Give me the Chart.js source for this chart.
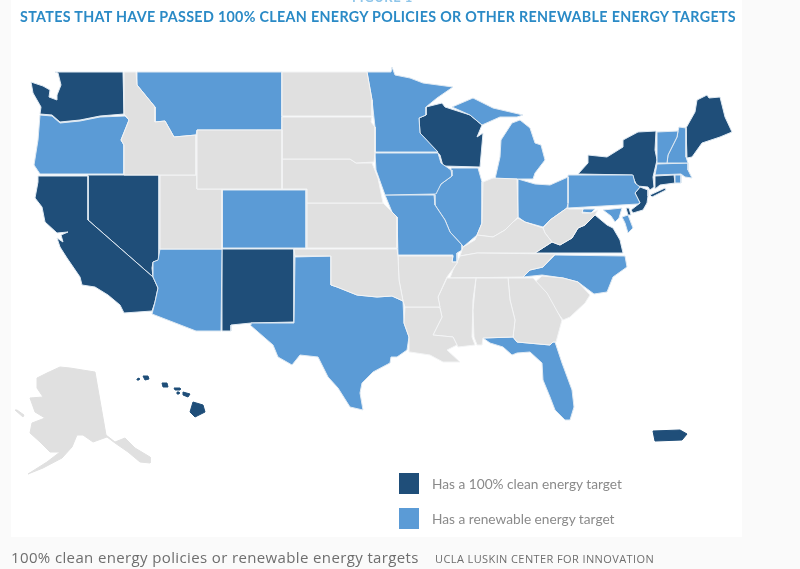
<!DOCTYPE html>
<html lang="en">
<head>
  <meta charset="UTF-8" />
  <title>100% clean energy policies or renewable energy targets</title>
  <script src="https://cdn.jsdelivr.net/npm/chart.js"></script>
  <style>
    body { margin: 0; background: #fafafa; width: 800px; height: 569px; overflow: hidden; position: relative; }
    .panel { position: absolute; left: 11px; top: 0; width: 731px; height: 537px; background: #fff; }
    canvas { position: absolute; left: 0; top: 0; }
    .fig { position: absolute; left: 352px; top: -11px; font: bold 13px Lato, sans-serif; color: #8fc6ea; letter-spacing: 0.5px; }
    .title { position: absolute; left: 20px; top: 8px; white-space: nowrap; font: bold 14.3px Lato, sans-serif; color: #2a8ac6; letter-spacing: 0.32px; }
    .key { position: absolute; left: 399px; width: 20px; height: 21px; }
    .keytext { position: absolute; left: 432px; font: 13.7px Lato, sans-serif; color: #8a8a8a; white-space: nowrap; }
    .caption { position: absolute; left: 11px; top: 547px; font: 15px "Open Sans", sans-serif; color: #6e6e6e; letter-spacing: 0.37px; white-space: nowrap; }
    .credit { position: absolute; left: 435px; top: 551px; font: 11px "Open Sans", sans-serif; color: #6e6e6e; letter-spacing: 0.4px; white-space: nowrap; }
  </style>
</head>
<body>
  <div class="panel"></div>
  <canvas id="mapa" width="800" height="569"></canvas>
  <div class="fig">FIGURE 1</div>
  <div class="title">STATES THAT HAVE PASSED 100% CLEAN ENERGY POLICIES OR OTHER RENEWABLE ENERGY TARGETS</div>
  <div class="key" style="top:473px;background:#1f4e79"></div>
  <div class="keytext" style="top:475px">Has a 100% clean energy target</div>
  <div class="key" style="top:508px;background:#5b9bd6"></div>
  <div class="keytext" style="top:510px">Has a renewable energy target</div>
  <div class="caption">100% clean energy policies or renewable energy targets</div>
  <div class="credit">UCLA LUSKIN CENTER FOR INNOVATION</div>

  <script>
    // state outlines (map units)
    const washington = [[55,72],[123,72],[124,114],[100,116],[80,120],[60,122],[52,115],[40,114],[41,107],[33,93],[31,82],[43,86],[50,90],[49,97],[57,100],[57,95],[61,85],[58,73]];
    const california = [[38,176],[88,176],[88,220],[153,277],[158,288],[155,302],[152,311],[124,313],[120,305],[108,295],[95,287],[82,285],[80,277],[67,258],[60,247],[57,238],[60,240],[63,242],[61,235],[68,232],[57,233],[45,222],[42,207],[35,198],[38,182]];
    const nevada = [[88,175],[159,175],[159,260],[153,262],[152,268],[153,277],[88,220]];
    const newMexico = [[222,249],[294,249],[294,322],[251,323],[231,325],[231,331],[222,331]];
    const wisconsin = [[426,107],[442,103],[445,107],[470,115],[482,125],[477,137],[483,133],[480,167],[443,166],[440,155],[420,133],[419,118],[426,115]];
    const virginia = [[535,253],[552,242],[560,245],[572,238],[578,228],[585,225],[595,215],[607,225],[613,228],[620,240],[623,253]];
    const newYork = [[578,174],[588,163],[588,155],[607,157],[623,147],[623,140],[638,132],[656,131],[655,150],[657,160],[653,177],[654,187],[650,190],[648,187],[637,186],[632,175]];
    const longIsland = [[650,195],[665,188],[666,190],[652,197]];
    const newJersey = [[640,187],[648,190],[648,196],[647,203],[643,210],[633,213],[631,210],[640,203],[635,193]];
    const delaware = [[626,208],[629,208],[631,215],[628,215]];
    const connecticut = [[655,176],[674,175],[675,183],[660,185],[655,189]];
    const maine = [[686,128],[695,112],[697,100],[707,95],[709,98],[720,97],[725,117],[732,132],[720,137],[702,143],[692,157],[687,158]];
    const puertoRico = [[653,431],[680,430],[687,434],[682,440],[655,441]];
    const hawaiiBig = [[193,402],[203,405],[205,412],[195,417],[190,412]];
    const maui = [[183,392],[190,394],[188,397],[183,395]];
    const oahu = [[162,383],[167,383],[168,387],[163,387]];
    const kauai = [[143,376],[148,376],[149,379],[145,380]];
    const molokai = [[174,388],[180,388],[180,390],[175,390]];
    const lanai = [[177,392],[179,392],[179,394],[177,394]];
    const niihau = [[137,379],[139,378],[139,380],[137,380]];

    const oregon = [[40,115],[52,116],[60,123],[80,121],[100,117],[125,116],[129,120],[121,140],[124,145],[124,174],[40,174],[34,165],[38,140]];
    const montana = [[137,72],[282,72],[282,130],[197,130],[196,135],[174,137],[165,121],[155,122],[155,107],[137,85]];
    const colorado = [[222,190],[306,190],[306,248],[222,248]];
    const arizona = [[160,249],[222,249],[221,331],[196,331],[152,314],[155,302],[158,288],[153,277],[153,262],[158,260]];
    const texas = [[295,257],[331,256],[331,285],[337,287],[357,295],[377,297],[392,296],[403,301],[404,323],[409,337],[407,350],[397,357],[391,357],[390,363],[373,372],[362,383],[360,393],[363,410],[350,407],[338,388],[328,377],[318,357],[300,355],[292,365],[278,357],[273,345],[250,325],[251,323],[294,323]];
    const minnesota = [[367,72],[391,72],[392,67],[395,75],[410,78],[423,83],[453,87],[437,98],[426,107],[426,115],[419,118],[420,133],[438,152],[375,152],[375,127],[372,100]];
    const iowa = [[375,153],[438,153],[441,163],[451,170],[452,176],[441,184],[436,194],[385,195],[376,170]];
    const missouri = [[385,195],[434,195],[435,205],[445,220],[450,232],[462,245],[462,250],[457,253],[457,262],[452,262],[453,255],[398,255],[397,217],[392,212]];
    const illinois = [[451,168],[478,168],[482,182],[482,223],[477,235],[463,247],[462,245],[450,232],[445,220],[435,205],[434,195],[441,184],[452,176]];
    const michiganUpper = [[452,107],[473,98],[493,108],[523,115],[517,117],[500,117],[482,125],[470,115]];
    const michiganLower = [[512,123],[520,120],[530,128],[535,143],[541,145],[545,160],[535,173],[533,179],[495,179],[500,157],[501,140]];
    const ohio = [[518,179],[535,184],[550,185],[568,177],[568,203],[567,208],[550,220],[543,227],[525,222],[518,217]];
    const pennsylvania = [[568,175],[633,175],[635,183],[640,187],[635,193],[640,203],[638,204],[568,208]];
    const vermont = [[657,132],[678,131],[677,137],[668,155],[667,163],[657,163],[657,150]];
    const newHampshire = [[679,127],[686,128],[686,157],[688,163],[667,163],[668,155],[677,137],[678,131]];
    const massachusetts = [[657,164],[688,163],[688,170],[692,178],[685,177],[681,174],[655,175]];
    const rhodeIsland = [[675,175],[681,175],[681,183],[675,183]];
    const marylandWest = [[582,212],[583,209],[595,209],[591,213]];
    const marylandEast = [[603,210],[622,208],[619,218],[615,222],[611,216]];
    const delmarva = [[622,217],[628,215],[633,228],[628,233],[625,223]];
    const northCarolina = [[555,255],[625,256],[627,267],[613,277],[607,292],[594,294],[578,282],[563,278],[542,275],[523,277],[530,270],[543,267]];
    const florida = [[483,338],[513,337],[517,342],[550,345],[552,342],[555,342],[562,363],[572,390],[574,407],[570,420],[565,420],[555,410],[550,397],[543,380],[542,363],[530,352],[517,353],[512,355],[503,347],[490,343]];

    const idaho = [[124,72],[136,72],[137,85],[155,107],[155,122],[165,121],[174,137],[196,135],[196,175],[124,175],[124,145],[121,140],[129,120],[124,114]];
    const wyoming = [[197,130],[282,130],[282,189],[197,189]];
    const utah = [[160,175],[197,175],[197,189],[222,189],[222,249],[160,249]];
    const northDakota = [[282,72],[367,72],[372,100],[372,116],[282,116]];
    const southDakota = [[282,117],[372,117],[371,122],[375,127],[375,152],[374,162],[356,163],[350,159],[282,159]];
    const nebraska = [[282,159],[350,159],[356,163],[372,163],[378,178],[383,203],[307,203],[307,189],[282,189]];
    const kansas = [[307,203],[383,203],[392,212],[397,217],[397,248],[307,248]];
    const oklahoma = [[294,249],[397,249],[398,257],[399,280],[403,301],[392,296],[377,297],[357,295],[337,287],[331,285],[331,256],[295,256]];
    const arkansas = [[398,256],[453,256],[452,262],[458,262],[447,277],[438,297],[440,307],[405,307],[403,301],[399,280]];
    const louisiana = [[405,307],[438,307],[440,308],[442,317],[433,335],[453,337],[457,345],[447,350],[460,362],[443,362],[430,355],[410,352],[409,337],[404,323]];
    const mississippi = [[447,278],[476,278],[473,300],[472,337],[475,345],[458,347],[453,337],[433,335],[442,317],[440,308],[438,297]];
    const alabama = [[476,278],[508,278],[510,300],[515,320],[513,337],[483,338],[482,345],[477,345],[474,337],[473,310]];
    const georgia = [[508,278],[533,278],[547,293],[562,320],[556,342],[553,342],[550,345],[517,342],[513,337],[515,320],[510,300]];
    const southCarolina = [[535,282],[542,276],[563,278],[578,282],[590,295],[585,303],[570,317],[563,320]];
    const tennessee = [[460,256],[477,253],[555,254],[543,267],[530,270],[523,277],[450,278],[453,270]];
    const kentucky = [[463,247],[475,240],[477,235],[493,237],[505,230],[513,222],[518,218],[525,222],[543,228],[545,233],[552,242],[535,253],[477,253],[460,256]];
    const westVirginia = [[543,228],[550,220],[567,208],[569,209],[583,209],[582,213],[591,213],[598,210],[595,215],[585,225],[578,228],[572,238],[560,245],[552,242],[545,233]];
    const indiana = [[483,182],[493,178],[517,179],[518,217],[513,222],[505,230],[493,237],[477,235],[482,223]];
    const alaska = [[60,367],[70,368],[95,372],[106,435],[115,442],[125,438],[135,448],[150,457],[150,463],[140,462],[128,452],[115,443],[107,437],[93,442],[83,435],[77,435],[72,447],[62,458],[43,468],[28,474],[47,462],[60,452],[50,452],[40,442],[30,433],[32,423],[45,418],[35,412],[30,398],[43,397],[37,388],[37,378],[47,373]];
    const alaskaIsland = [[15,410],[17,410],[24,415],[23,417]];
    const okeechobee = [[563,394],[567,394],[569,398],[566,401],[563,399]];

    const cleanTarget = [washington, california, nevada, newMexico, wisconsin, virginia, newYork, longIsland, newJersey, delaware, connecticut, maine];
    const cleanIslands = [puertoRico, hawaiiBig, maui, oahu, kauai, molokai, lanai, niihau];
    const renewableTarget = [oregon, montana, colorado, arizona, texas, minnesota, iowa, missouri, illinois, michiganUpper, michiganLower, ohio, pennsylvania, vermont, newHampshire, massachusetts, rhodeIsland, marylandWest, marylandEast, delmarva, northCarolina, florida];
    const noTarget = [idaho, wyoming, utah, northDakota, southDakota, nebraska, kansas, oklahoma, arkansas, louisiana, mississippi, alabama, georgia, southCarolina, tennessee, kentucky, westVirginia, indiana];
    const noTargetAlaska = [alaska, alaskaIsland];
    const lakes = [okeechobee];

    function capa(estados, color, borde) {
      return estados.map(e => ({
        data: e.concat([e[0]]).map(p => ({ x: p[0], y: p[1] })),
        showLine: true,
        fill: 'shape',
        backgroundColor: color,
        borderColor: borde,
        borderWidth: 1,
        pointRadius: 0,
        tension: 0
      }));
    }

    new Chart(document.getElementById('mapa'), {
      type: 'scatter',
      data: {
        datasets: [
          ...capa(noTarget, '#e0e0e0', '#f3f4f5'),
          ...capa(noTargetAlaska, '#e0e0e0', '#e0e0e0'),
          ...capa(renewableTarget, '#5b9bd6', '#dfe9f2'),
          ...capa(cleanTarget, '#1f4e79', '#dfe9f2'),
          ...capa(cleanIslands, '#1f4e79', '#1f4e79'),
          ...capa(lakes, '#ffffff', '#ffffff')
        ]
      },
      options: {
        responsive: false,
        animation: false,
        layout: { padding: 0 },
        plugins: { legend: { display: false }, tooltip: { enabled: false } },
        scales: {
          x: { type: 'linear', display: false, min: 0, max: 800 },
          y: { type: 'linear', display: false, min: 0, max: 569, reverse: true }
        }
      }
    });
  </script>
</body>
</html>
